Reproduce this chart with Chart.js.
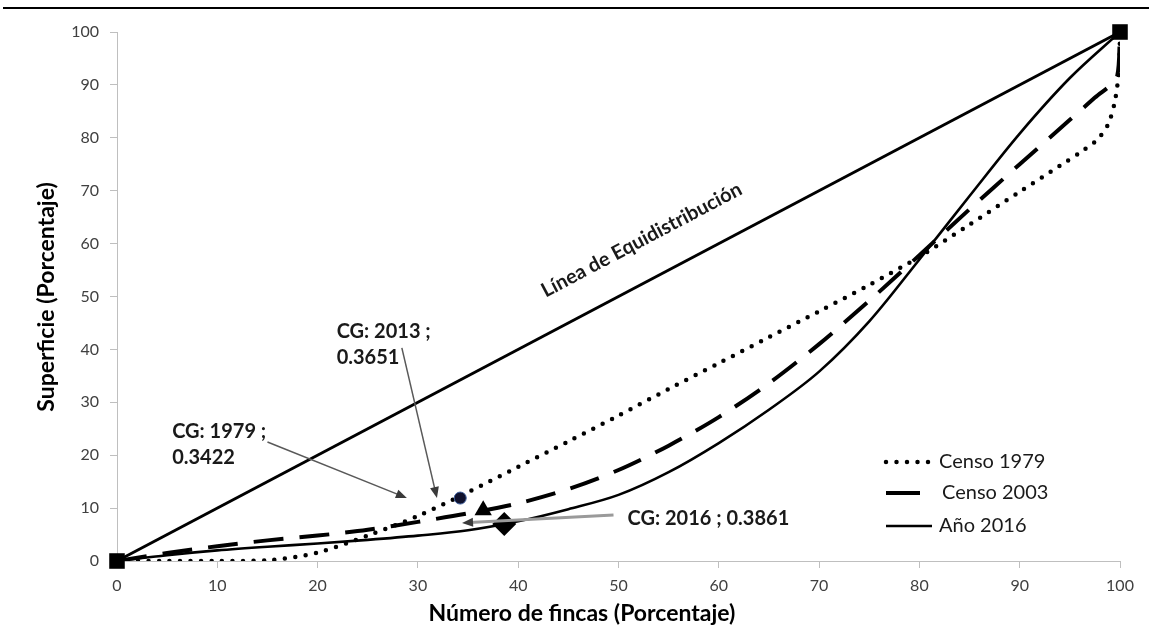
<!DOCTYPE html>
<html>
<head>
<meta charset="utf-8">
<script src="https://cdn.jsdelivr.net/npm/chart.js@4.4.1/dist/chart.umd.min.js"></script>
<style>
html,body{margin:0;padding:0;background:#ffffff;}
#wrap{width:1149px;height:638px;position:relative;}
</style>
</head>
<body>
<div id="wrap"><canvas id="c" width="1149" height="638"></canvas></div>
<script>
// ---- data ----
const tickValues = [0, 10, 20, 30, 40, 50, 60, 70, 80, 90, 100];

const equidadX = [0, 100];
const equidadY = [0, 100];

const censo1979X = [0, 5, 10, 15, 20, 25, 30, 35, 40, 45, 50, 55, 60, 65, 70, 75, 80, 85, 90, 94, 96, 97.7, 98.8, 99.5, 99.9, 100];
const censo1979Y = [0, 0, 0, 0.1, 1.6, 4.8, 8.5, 13.0, 17.8, 22.6, 27.5, 32.5, 37.4, 42.3, 47.2, 52.2, 57.5, 63.6, 69.8, 74.7, 77.2, 79.6, 82.5, 87.0, 93.0, 100];

const censo2003X = [0, 5, 10, 15, 20, 25, 30, 35, 40, 45, 50, 55, 60, 65, 70, 75, 80, 85, 90, 95, 97.5, 99.7, 100];
const censo2003Y = [0, 1.5, 2.8, 3.9, 4.8, 5.9, 7.4, 9.0, 10.9, 13.6, 17.2, 21.8, 27.2, 33.6, 41.0, 49.2, 57.8, 66.5, 75.0, 83.4, 87.6, 91.5, 100];

const ano2016X = [0, 5, 10, 15, 20, 25, 30, 35, 40, 45, 50, 55, 60, 65, 70, 75, 80, 85, 90, 95, 100];
const ano2016Y = [0, 1.1, 2.0, 2.7, 3.3, 4.0, 4.8, 5.8, 7.5, 9.8, 12.5, 16.8, 22.3, 28.6, 35.8, 45.3, 57.0, 69.0, 80.8, 91.3, 100];

const giniX = [34.22, 36.51, 38.61];
const giniY = [11.9, 9.6, 7.0];

const seriesLabels = ['Censo 1979', 'Censo 2003', 'Año 2016'];
const giniLabels = [['CG: 1979 ;', '0.3422'], ['CG: 2013 ;', '0.3651'], ['CG: 2016 ; 0.3861']];
const equidadLabel = 'Línea de Equidistribución';
const xTitle = 'Número de fincas (Porcentaje)';
const yTitle = 'Superficie (Porcentaje)';

const pts = (xs, ys) => xs.map((x, i) => ({x: x, y: ys[i]}));

// ---- annotation / legend drawing ----
function drawArrow(ctx, x1, y1, x2, y2, color, width, headColor, headLen, headW) {
  const a = Math.atan2(y2 - y1, x2 - x1);
  const c = Math.cos(a), s = Math.sin(a);
  ctx.save();
  ctx.strokeStyle = color;
  ctx.lineWidth = width;
  ctx.lineCap = 'butt';
  ctx.beginPath();
  ctx.moveTo(x1, y1);
  ctx.lineTo(x2 - c * headLen * 0.7, y2 - s * headLen * 0.7);
  ctx.stroke();
  ctx.fillStyle = headColor;
  ctx.beginPath();
  ctx.moveTo(x2, y2);
  ctx.lineTo(x2 - c * headLen - s * headW / 2, y2 - s * headLen + c * headW / 2);
  ctx.lineTo(x2 - c * headLen + s * headW / 2, y2 - s * headLen - c * headW / 2);
  ctx.closePath();
  ctx.fill();
  ctx.restore();
}

const annotationPlugin = {
  id: 'annot',
  afterDatasetsDraw(chart, args, opts) {
    const ctx = chart.ctx;
    const xs = chart.scales.x, ys = chart.scales.y;
    const px = v => xs.getPixelForValue(v);
    const py = v => ys.getPixelForValue(v);

    // top rule
    ctx.save();
    ctx.strokeStyle = '#000';
    ctx.lineWidth = 2;
    ctx.beginPath();
    ctx.moveTo(3, 8);
    ctx.lineTo(1149, 8);
    ctx.stroke();
    ctx.restore();

    // Gini annotations
    ctx.save();
    ctx.font = 'bold 20px Lato';
    ctx.fillStyle = '#1a1a1a';
    ctx.textBaseline = 'middle';
    ctx.textAlign = 'left';
    opts.labelAt.forEach((p, i) => {
      giniLabels[i].forEach((line, j) => {
        ctx.fillText(line, px(p[0]), py(p[1]) + j * 26);
      });
    });
    ctx.restore();

    opts.arrows.forEach(a => {
      drawArrow(ctx, px(a.from[0]), py(a.from[1]), px(a.to[0]), py(a.to[1]),
        a.color, a.width, '#3a3a3a', 11, 9);
    });

    // equidistribution label
    const ang = Math.atan2(py(100) - py(0), px(100) - px(0));
    ctx.save();
    ctx.translate(px(opts.equidadAt[0]), py(opts.equidadAt[1]));
    ctx.rotate(ang);
    ctx.font = 'bold 20px Lato';
    ctx.fillStyle = '#1a1a1a';
    ctx.textAlign = 'center';
    ctx.textBaseline = 'middle';
    ctx.fillText(equidadLabel, 0, 0);
    ctx.restore();

    // axis titles
    ctx.save();
    ctx.font = 'bold 23px Lato';
    ctx.fillStyle = '#000';
    ctx.textAlign = 'center';
    ctx.textBaseline = 'middle';
    ctx.fillText(xTitle, 582, 614);
    ctx.translate(47, 297);
    ctx.rotate(-Math.PI / 2);
    ctx.fillText(yTitle, 0, 0);
    ctx.restore();

    // legend
    const rows = [462, 493, 526];
    [1, 2, 3].forEach((di, i) => {
      const ds = chart.data.datasets[di];
      ctx.save();
      ctx.strokeStyle = ds.borderColor;
      ctx.lineWidth = ds.borderWidth;
      ctx.lineCap = ds.borderCapStyle || 'butt';
      ctx.setLineDash(di === 1 ? ds.borderDash : []);
      ctx.beginPath();
      const x0 = 886;
      const x1 = di === 2 ? 920 : 932;
      ctx.moveTo(x0, rows[i]);
      ctx.lineTo(x1, rows[i]);
      ctx.stroke();
      ctx.restore();
      ctx.save();
      ctx.font = '20px Lato';
      ctx.fillStyle = '#1a1a1a';
      ctx.textBaseline = 'middle';
      ctx.textAlign = 'left';
      ctx.fillText(ds.label, di === 2 ? 942 : 939, rows[i]);
      ctx.restore();
    });
  }
};

const axisColor = '#bfbfbf';
const tickFont = {family: 'Lato', size: 16};

new Chart(document.getElementById('c'), {
  type: 'scatter',
  data: {
    datasets: [
      {
        label: 'Equidistribución',
        data: pts(equidadX, equidadY),
        showLine: true,
        clip: false,
        borderColor: '#000',
        borderWidth: 3,
        pointStyle: 'rect',
        pointRadius: 11,
        pointBackgroundColor: '#000',
        pointBorderColor: '#000',
        pointBorderWidth: 0,
        order: 0
      },
      {
        label: seriesLabels[0],
        data: pts(censo1979X, censo1979Y),
        showLine: true,
        borderColor: '#000',
        borderWidth: 4.5,
        borderDash: [0, 10.5],
        borderCapStyle: 'round',
        tension: 0.3,
        pointRadius: 0,
        order: 3
      },
      {
        label: seriesLabels[1],
        data: pts(censo2003X, censo2003Y),
        showLine: true,
        borderColor: '#000',
        borderWidth: 4,
        borderDash: [30, 16],
        borderCapStyle: 'butt',
        tension: 0.3,
        pointRadius: 0,
        order: 3
      },
      {
        label: seriesLabels[2],
        data: pts(ano2016X, ano2016Y),
        showLine: true,
        borderColor: '#000',
        borderWidth: 2.6,
        cubicInterpolationMode: 'monotone',
        pointRadius: 0,
        order: 3
      },
      {
        label: 'CG 1979',
        data: [{x: giniX[0], y: giniY[0]}],
        showLine: false,
        pointStyle: 'circle',
        pointRadius: 6,
        pointBackgroundColor: '#10122e',
        pointBorderColor: '#3b5b9a',
        pointBorderWidth: 1,
        order: 1
      },
      {
        label: 'CG 2013',
        data: [{x: giniX[1], y: giniY[1]}],
        showLine: false,
        pointStyle: 'triangle',
        pointRadius: 10,
        pointBackgroundColor: '#000',
        pointBorderColor: '#000',
        pointBorderWidth: 0,
        order: 1
      },
      {
        label: 'CG 2016',
        data: [{x: giniX[2], y: giniY[2]}],
        showLine: false,
        pointStyle: 'rectRot',
        pointRadius: 12,
        pointBackgroundColor: '#000',
        pointBorderColor: '#000',
        pointBorderWidth: 0,
        order: 1
      }
    ]
  },
  options: {
    responsive: false,
    animation: false,
    devicePixelRatio: 1,
    layout: {padding: {left: 0, top: 32, right: 29, bottom: 0}},
    plugins: {
      legend: {display: false},
      tooltip: {enabled: false},
      annot: {
        labelAt: [[5.5, 24.4], [21.9, 43.3], [50.9, 8.1]],
        arrows: [
          {from: [15.0, 22.5], to: [28.9, 11.9], color: '#595959', width: 1.5},
          {from: [28.4, 40.3], to: [31.9, 11.9], color: '#595959', width: 1.5},
          {from: [49.5, 8.7], to: [34.4, 7.2], color: '#9a9a9a', width: 3}
        ],
        equidadAt: [52.3, 60.7]
      }
    },
    scales: {
      x: {
        type: 'linear',
        min: 0, max: 100,
        afterBuildTicks: s => { s.ticks = tickValues.map(v => ({value: v})); },
        afterFit: s => { s.height = 77; },
        ticks: {font: tickFont, color: '#404040', padding: 8},
        grid: {display: true, drawOnChartArea: false, drawTicks: true, tickLength: 7, color: axisColor},
        border: {color: axisColor, width: 1}
      },
      y: {
        type: 'linear',
        min: 0, max: 100,
        afterBuildTicks: s => { s.ticks = tickValues.map(v => ({value: v})); },
        afterFit: s => { s.width = 117; },
        ticks: {font: tickFont, color: '#404040', padding: 11},
        grid: {display: true, drawOnChartArea: false, drawTicks: true, tickLength: 7, color: axisColor},
        border: {color: axisColor, width: 1}
      }
    }
  },
  plugins: [annotationPlugin]
});
</script>
</body>
</html>
